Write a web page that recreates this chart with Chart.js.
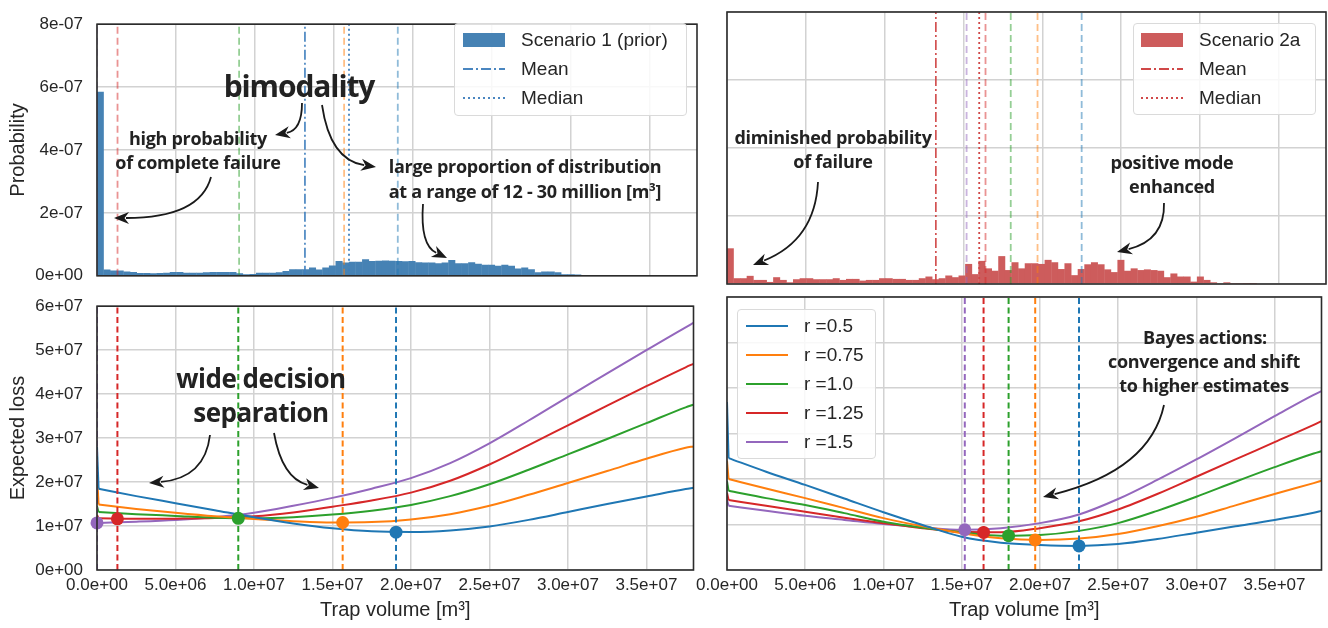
<!DOCTYPE html>
<html>
<head>
<meta charset="utf-8">
<script src="https://cdn.jsdelivr.net/npm/chart.js@4.4.0/dist/chart.umd.min.js"></script>
<style>
  body { margin: 0; background: #fff; width: 1328px; height: 628px; overflow: hidden; position: relative;
         font-family: 'Liberation Sans', Arial, sans-serif; }
  canvas.panel { position: absolute; }
  #arrows { position: absolute; left: 0; top: 0; pointer-events: none; }
  .note { position: absolute; font-family: 'Open Sans', sans-serif; font-weight: 700; color: #222;
          white-space: nowrap; transform: translate(-50%, -50%); line-height: 1; }
  .legend { position: absolute; border: 1px solid #dadada; border-radius: 4px; background: rgba(255,255,255,0.85);
            box-sizing: border-box; }
  .legend .sym { position: absolute; }
  .legend .txt { position: absolute; font-size: 19px; line-height: 20px; color: #262626; white-space: nowrap; }
</style>
</head>
<body>
<canvas id="tl" class="panel" width="700" height="300" style="left:0;top:0"></canvas>
<canvas id="tr" class="panel" width="638" height="300" style="left:690px;top:0"></canvas>
<canvas id="bl" class="panel" width="700" height="346" style="left:0;top:282px"></canvas>
<canvas id="br" class="panel" width="638" height="346" style="left:690px;top:282px"></canvas>
<canvas id="arrows" width="1328" height="628"></canvas>
<div id="overlay"></div>
<script>
// ---- data ----
const xMax = 3.8e7;
const binWidth = 4.2e5;
const probUnit = 1e-7;   // histogram values below are in units of 1e-7
const lossUnit = 1e7;    // expected loss values below are in units of 1e7

const xTicks = [0, 5e6, 1e7, 1.5e7, 2e7, 2.5e7, 3e7, 3.5e7];
const probTicks = [0, 2e-7, 4e-7, 6e-7, 8e-7];
const lossTicks = [0, 1e7, 2e7, 3e7, 4e7, 5e7, 6e7];

// Scenario 1 (prior) histogram, bins of 4.2e5 m³ from 0
const hist1 = [5.85, 0.20, 0.17, 0.17, 0.14, 0.12, 0.09, 0.09, 0.08, 0.09,
  0.10, 0.12, 0.12, 0.10, 0.10, 0.10, 0.11, 0.12, 0.12, 0.12,
  0.12, 0.08, 0.05, 0.06, 0.10, 0.10, 0.10, 0.11, 0.15, 0.21,
  0.21, 0.21, 0.26, 0.20, 0.26, 0.33, 0.47, 0.42, 0.45, 0.45,
  0.53, 0.47, 0.48, 0.49, 0.48, 0.47, 0.46, 0.47, 0.43, 0.42,
  0.42, 0.40, 0.42, 0.50, 0.40, 0.40, 0.43, 0.38, 0.35, 0.35,
  0.32, 0.35, 0.32, 0.23, 0.26, 0.21, 0.11, 0.14, 0.14, 0.11,
  0.05, 0.05, 0.04, 0.01, 0.01, 0.01, 0.005, 0.005, 0.003];

// Scenario 2a histogram
const hist2 = [1.05, 0.17, 0.17, 0.24, 0.12, 0.12, 0.06, 0.20, 0.12, 0.05,
  0.14, 0.17, 0.17, 0.14, 0.14, 0.14, 0.17, 0.12, 0.15, 0.15,
  0.10, 0.12, 0.12, 0.17, 0.17, 0.15, 0.15, 0.12, 0.12, 0.17,
  0.22, 0.14, 0.17, 0.25, 0.20, 0.25, 0.59, 0.29, 0.68, 0.46,
  0.39, 0.82, 0.41, 0.64, 0.46, 0.61, 0.61, 0.59, 0.71, 0.64,
  0.44, 0.61, 0.26, 0.44, 0.58, 0.64, 0.58, 0.43, 0.35, 0.71,
  0.39, 0.46, 0.41, 0.43, 0.41, 0.39, 0.20, 0.31, 0.22, 0.22,
  0.07, 0.22, 0.12, 0.05, 0.02, 0.05, 0.01, 0.01, 0.005, 0.003];

const priorMean = 1.317e7, priorMedian = 1.596e7;
const postMean = 1.325e7, postMedian = 1.6e7;

const rLabels = ['r =0.5', 'r =0.75', 'r =1.0', 'r =1.25', 'r =1.5'];
const rColors = ['#1f77b4', '#ff7f0e', '#2ca02c', '#d62728', '#9467bd'];

// estimate values where the expected loss was sampled (first point is the estimate 0)
const lossX = [0, 1e5, 2.5e6, 5e6, 7.5e6, 1e7, 1.25e7, 1.5e7, 1.75e7, 2e7,
  2.25e7, 2.5e7, 2.75e7, 3e7, 3.25e7, 3.5e7, 3.75e7, 3.8e7];

// expected loss, scenario 1
const priorLoss05  = [2.8, 1.85, 1.68, 1.52, 1.36, 1.20, 1.06, 0.95, 0.88, 0.865, 0.90, 0.99, 1.14, 1.32, 1.50, 1.67, 1.84, 1.87];
const priorLoss075 = [2.2, 1.49, 1.39, 1.30, 1.22, 1.16, 1.11, 1.08, 1.09, 1.15, 1.27, 1.46, 1.71, 1.98, 2.25, 2.53, 2.78, 2.81];
const priorLoss10  = [1.45, 1.32, 1.27, 1.23, 1.19, 1.175, 1.20, 1.26, 1.35, 1.48, 1.68, 1.95, 2.28, 2.63, 2.98, 3.34, 3.70, 3.76];
const priorLoss125 = [1.25, 1.175, 1.165, 1.168, 1.18, 1.22, 1.31, 1.44, 1.58, 1.76, 2.03, 2.40, 2.84, 3.29, 3.74, 4.18, 4.61, 4.69];
const priorLoss15  = [1.07, 1.07, 1.10, 1.14, 1.20, 1.30, 1.46, 1.64, 1.85, 2.09, 2.43, 2.88, 3.40, 3.94, 4.47, 5.00, 5.52, 5.62];

// expected loss, scenario 2a
const postLoss05  = [3.69, 2.46, 2.16, 1.87, 1.57, 1.27, 0.99, 0.73, 0.60, 0.55, 0.53, 0.57, 0.68, 0.82, 0.96, 1.10, 1.26, 1.30];
const postLoss075 = [2.4, 2.00, 1.79, 1.58, 1.36, 1.14, 0.96, 0.81, 0.70, 0.66, 0.69, 0.79, 0.96, 1.17, 1.42, 1.67, 1.91, 1.96];
const postLoss10  = [1.95, 1.74, 1.58, 1.43, 1.25, 1.06, 0.93, 0.83, 0.755, 0.77, 0.86, 1.03, 1.30, 1.61, 1.94, 2.26, 2.56, 2.61];
const postLoss125 = [1.7, 1.54, 1.41, 1.28, 1.15, 1.03, 0.92, 0.84, 0.83, 0.92, 1.07, 1.33, 1.67, 2.05, 2.43, 2.81, 3.19, 3.27];
const postLoss15  = [1.55, 1.41, 1.30, 1.19, 1.10, 1.01, 0.94, 0.885, 0.92, 1.03, 1.22, 1.56, 1.98, 2.43, 2.90, 3.38, 3.85, 3.93];

// Bayes actions (minimum of each curve)
const priorActions = [1.905e7, 1.565e7, 9.0e6, 1.3e6, 0];
const priorActionLoss = [0.86, 1.08, 1.175, 1.165, 1.07];
const postActions = [2.25e7, 1.97e7, 1.8e7, 1.64e7, 1.52e7];
const postActionLoss = [0.53, 0.66, 0.755, 0.825, 0.885];

const probMax = 8e-7;
const lossMax = 6e7;

// ---- helpers ----
Chart.defaults.font.family = "'Liberation Sans', Arial, sans-serif";
Chart.defaults.color = '#262626';
Chart.defaults.animation = false;

function fmtExp(v, d) {
  return Number(v).toExponential(d).replace(/e([+-])(\d)$/, 'e$10$2');
}
function fade(hex, a) {
  const n = parseInt(hex.slice(1), 16);
  return 'rgba(' + (n >> 16) + ',' + ((n >> 8) & 255) + ',' + (n & 255) + ',' + a + ')';
}

const frame = {
  id: 'frame',
  afterDraw(chart) {
    const { ctx, chartArea: a } = chart;
    ctx.save();
    ctx.strokeStyle = '#2b2b2b';
    ctx.lineWidth = 1.6;
    ctx.strokeRect(a.left, a.top, a.right - a.left, a.bottom - a.top);
    ctx.restore();
  }
};

function histSet(values, color) {
  return {
    type: 'bar', data: values.map((v, i) => ({ x: (i + 0.5) * binWidth, y: v * probUnit })),
    backgroundColor: color, borderWidth: 0, barPercentage: 1.06, categoryPercentage: 1,
    grouped: false, order: 3
  };
}
function vline(x, yTop, color, dash, width) {
  return {
    type: 'line', data: [{ x: x, y: 0 }, { x: x, y: yTop }], borderColor: color,
    borderDash: dash, borderWidth: width, pointRadius: 0, order: 1
  };
}
// the jump at estimate 0 is drawn straight, the rest as a smooth curve
function lossSets(values, color) {
  const pts = lossX.map((x, i) => ({ x: x, y: values[i] * lossUnit }));
  return [
    { type: 'line', data: pts.slice(0, 2), borderColor: color, borderWidth: 2, pointRadius: 0, order: 2 },
    { type: 'line', data: pts.slice(1), borderColor: color, borderWidth: 2, pointRadius: 0,
      cubicInterpolationMode: 'monotone', order: 2 }
  ];
}
function dotSet(x, y, color) {
  return {
    type: 'line', showLine: false, data: [{ x: x, y: y * lossUnit }], pointRadius: 6.5,
    pointBackgroundColor: color, pointBorderWidth: 0, order: 0, clip: false
  };
}

function makeScales(o) {
  return {
    x: {
      type: 'linear', min: 0, max: xMax, offset: false,
      grid: { color: '#d2d2d2', lineWidth: 1.5, drawTicks: false, offset: false },
      border: { display: false },
      ticks: { display: o.xLabels, padding: 5, font: { size: 17 }, maxRotation: 0, autoSkip: false,
               callback: v => fmtExp(v, 1) },
      title: { display: o.xLabels, text: 'Trap volume [m³]', font: { size: 20 }, padding: { top: 0, bottom: 6 } },
      afterBuildTicks: s => { s.ticks = xTicks.map(v => ({ value: v })); },
      afterFit: s => { s.height = o.xHeight; }
    },
    y: {
      min: 0, max: o.yMax,
      grid: { color: '#d2d2d2', lineWidth: 1.5, drawTicks: false },
      border: { display: false },
      ticks: { display: o.yLabels, padding: 14, font: { size: 17 }, callback: v => fmtExp(v, 0) },
      title: { display: o.yLabels, text: o.yTitle, font: { size: 20 }, padding: { top: 6, bottom: 0 } },
      afterBuildTicks: s => { s.ticks = o.yTicks.map(v => ({ value: v })); },
      afterFit: s => { s.width = o.yLabels ? 97 : 0; }
    }
  };
}

function makeChart(id, type, datasets, scales, padding) {
  return new Chart(document.getElementById(id), {
    type: type,
    data: { datasets: datasets },
    options: {
      responsive: false, devicePixelRatio: 1, events: [],
      layout: { padding: padding },
      plugins: { legend: { display: false }, tooltip: { enabled: false } },
      scales: scales
    },
    plugins: [frame]
  });
}

// ---- top left: Scenario 1 histogram ----
const tlSets = [histSet(hist1, '#4682b4'),
  vline(priorMean, probMax, '#3f7fbd', [10, 3, 2, 3], 1.6),
  vline(priorMedian, probMax, '#3f7fbd', [2, 3], 1.8)];
priorActions.forEach((a, i) => tlSets.push(vline(a, probMax, fade(rColors[i], 0.5), [7, 4], 1.8)));
makeChart('tl', 'bar', tlSets,
  makeScales({ xLabels: false, xHeight: 0, yLabels: true, yMax: probMax, yTicks: probTicks, yTitle: 'Probability' }),
  { top: 12, right: 3, bottom: 16, left: 0 });

// ---- top right: Scenario 2a histogram ----
const trSets = [histSet(hist2, '#cd5c5c'),
  vline(postMean, probMax, '#d04848', [10, 3, 2, 3], 1.6),
  vline(postMedian, probMax, '#d04848', [2, 3], 1.8)];
postActions.forEach((a, i) => trSets.push(vline(a, probMax, fade(rColors[i], 0.5), [7, 4], 1.8)));
makeChart('tr', 'bar', trSets,
  makeScales({ xLabels: false, xHeight: 0, yLabels: false, yMax: probMax, yTicks: probTicks }),
  { top: 12, right: 2, bottom: 16, left: 37 });

// ---- bottom panels: expected loss ----
const priorLoss = [priorLoss05, priorLoss075, priorLoss10, priorLoss125, priorLoss15];
const postLoss = [postLoss05, postLoss075, postLoss10, postLoss125, postLoss15];

function lossPanel(curves, actions, actionLoss) {
  const sets = [];
  curves.forEach((c, i) => sets.push(...lossSets(c, rColors[i])));
  actions.forEach((a, i) => sets.push(vline(a, lossMax, rColors[i], [6, 3.5], 2)));
  actions.forEach((a, i) => sets.push(dotSet(a, actionLoss[i], rColors[i])));
  return sets;
}
makeChart('bl', 'line', lossPanel(priorLoss, priorActions, priorActionLoss),
  makeScales({ xLabels: true, xHeight: 58, yLabels: true, yMax: lossMax, yTicks: lossTicks, yTitle: 'Expected loss' }),
  { top: 15, right: 3, bottom: 0, left: 0 });
makeChart('br', 'line', lossPanel(postLoss, postActions, postActionLoss),
  makeScales({ xLabels: true, xHeight: 58, yLabels: false, yMax: lossMax, yTicks: lossTicks }),
  { top: 15, right: 2, bottom: 0, left: 37 });

// ---- legends ----
const overlay = document.getElementById('overlay');
function svgSym(kind, color) {
  if (kind === 'rect') return '<svg width="42" height="16"><rect x="0" y="1" width="42" height="14" fill="' + color + '"/></svg>';
  const dash = kind === 'dashdot' ? '10,3,2,3' : (kind === 'dot' ? '2,3' : 'none');
  return '<svg width="42" height="16"><line x1="0" y1="8" x2="42" y2="8" stroke="' + color +
    '" stroke-width="2" stroke-dasharray="' + dash + '"/></svg>';
}
function legend(box, symX, txtX, rows) {
  const d = document.createElement('div');
  d.className = 'legend';
  d.style.left = box[0] + 'px'; d.style.top = box[1] + 'px';
  d.style.width = box[2] + 'px'; d.style.height = box[3] + 'px';
  rows.forEach(r => {
    const s = document.createElement('div');
    s.className = 'sym'; s.style.left = (symX - box[0]) + 'px'; s.style.top = (r.y - 8 - box[1]) + 'px';
    s.innerHTML = svgSym(r.kind, r.color);
    d.appendChild(s);
    const t = document.createElement('div');
    t.className = 'txt'; t.style.left = (txtX - box[0]) + 'px'; t.style.top = (r.y - 10 - box[1]) + 'px';
    t.textContent = r.label;
    d.appendChild(t);
  });
  overlay.appendChild(d);
}
legend([454, 23, 233, 93], 462, 520, [
  { y: 39, kind: 'rect', color: '#4682b4', label: 'Scenario 1 (prior)' },
  { y: 68, kind: 'dashdot', color: '#4a86c0', label: 'Mean' },
  { y: 97, kind: 'dot', color: '#4a86c0', label: 'Median' }]);
legend([1133, 23, 183, 92], 1140, 1198, [
  { y: 39, kind: 'rect', color: '#cd5c5c', label: 'Scenario 2a' },
  { y: 68, kind: 'dashdot', color: '#d04848', label: 'Mean' },
  { y: 97, kind: 'dot', color: '#d04848', label: 'Median' }]);
legend([737, 309, 139, 150], 745, 803, rLabels.map((l, i) => ({ y: 325 + i * 29, kind: 'line', color: rColors[i], label: l })));

// ---- annotations ----
const notes = [
  { t: 'bimodality', x: 299, y: 86, s: 30, ls: -1.1 },
  { t: 'high probability', x: 198, y: 138, s: 18, ls: -0.3 },
  { t: 'of complete failure', x: 198, y: 162, s: 18, ls: -0.3 },
  { t: 'large proportion of distribution', x: 525, y: 166, s: 18, ls: -0.3 },
  { t: 'at a range of 12 - 30 million [m³]', x: 525, y: 191, s: 18, ls: -0.3 },
  { t: 'diminished probability', x: 833, y: 137, s: 18, ls: -0.3 },
  { t: 'of failure', x: 833, y: 161, s: 18, ls: -0.3 },
  { t: 'positive mode', x: 1172, y: 162, s: 18, ls: -0.3 },
  { t: 'enhanced', x: 1172, y: 186, s: 18, ls: -0.3 },
  { t: 'wide decision', x: 261, y: 378, s: 26, ls: -0.5 },
  { t: 'separation', x: 261, y: 412, s: 26, ls: -0.5 },
  { t: 'Bayes actions:', x: 1205, y: 337, s: 18, ls: -0.3 },
  { t: 'convergence and shift', x: 1204, y: 361, s: 18, ls: -0.3 },
  { t: 'to higher estimates', x: 1204, y: 385, s: 18, ls: -0.3 }
];
notes.forEach(n => {
  const d = document.createElement('div');
  d.className = 'note';
  d.style.left = n.x + 'px'; d.style.top = n.y + 'px';
  d.style.fontSize = n.s + 'px'; d.style.letterSpacing = n.ls + 'px';
  d.textContent = n.t;
  overlay.appendChild(d);
});

// curved arrows: start, control, tip
const arrows = [
  [[302, 103], [302, 130], [275, 135]],
  [[322, 105], [330, 160], [376, 167]],
  [[211, 177], [200, 218], [114, 218]],
  [[423, 204], [420, 245], [447, 258]],
  [[818, 182], [815, 240], [753, 265]],
  [[1164, 203], [1165, 240], [1117, 252]],
  [[210, 435], [205, 478], [149, 483]],
  [[274, 433], [282, 478], [319, 488]],
  [[1164, 405], [1150, 470], [1043, 497]]
];
const actx = document.getElementById('arrows').getContext('2d');
actx.strokeStyle = '#1a1a1a';
actx.fillStyle = '#1a1a1a';
actx.lineWidth = 1.8;
arrows.forEach(([p0, c, p1]) => {
  const ang = Math.atan2(p1[1] - c[1], p1[0] - c[0]);
  const L = 15, W = 6;
  const bx = p1[0] - L * 0.8 * Math.cos(ang), by = p1[1] - L * 0.8 * Math.sin(ang);
  actx.beginPath();
  actx.moveTo(p0[0], p0[1]);
  actx.quadraticCurveTo(c[0], c[1], bx, by);
  actx.stroke();
  actx.beginPath();
  actx.moveTo(p1[0], p1[1]);
  actx.lineTo(p1[0] - L * Math.cos(ang) + W * Math.sin(ang), p1[1] - L * Math.sin(ang) - W * Math.cos(ang));
  actx.lineTo(p1[0] - L * 0.7 * Math.cos(ang), p1[1] - L * 0.7 * Math.sin(ang));
  actx.lineTo(p1[0] - L * Math.cos(ang) - W * Math.sin(ang), p1[1] - L * Math.sin(ang) + W * Math.cos(ang));
  actx.closePath();
  actx.fill();
});
</script>
</body>
</html>
